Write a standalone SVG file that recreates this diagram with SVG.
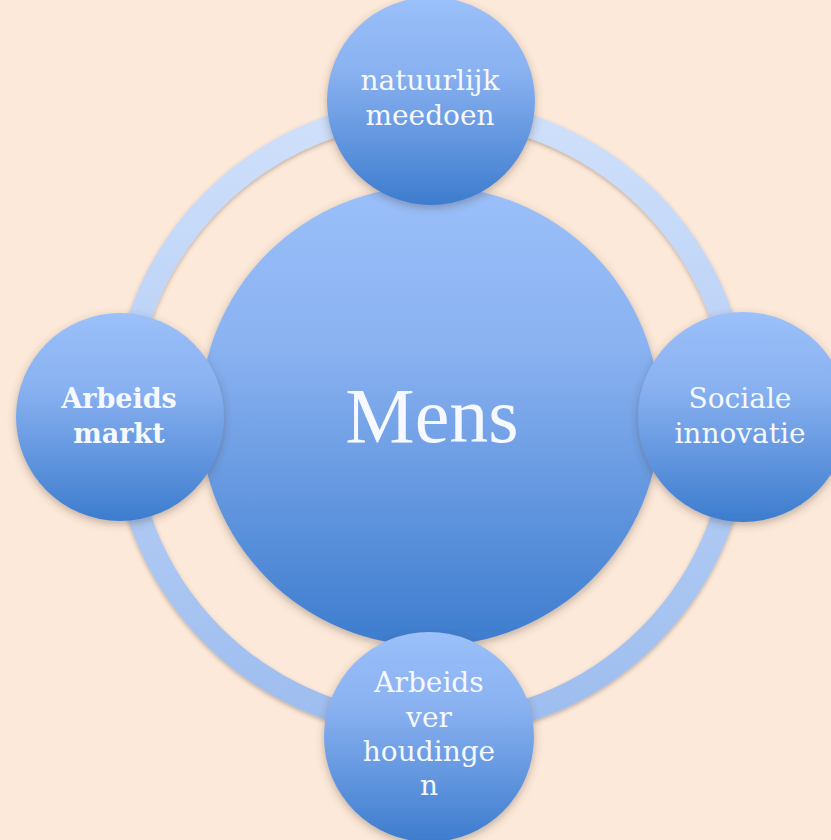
<svg xmlns="http://www.w3.org/2000/svg" width="831" height="840" viewBox="0 0 831 840">
  <defs>
    <linearGradient id="ballFill" x1="0" y1="0" x2="0" y2="1">
      <stop offset="0" stop-color="#9bc0fa"/>
      <stop offset="0.35" stop-color="#8ab2f1"/>
      <stop offset="1" stop-color="#3d7cce"/>
    </linearGradient>
    <linearGradient id="ringFill" x1="0" y1="0" x2="0" y2="1">
      <stop offset="0" stop-color="#cfe0fb"/>
      <stop offset="1" stop-color="#9dbdef"/>
    </linearGradient>
    <filter id="softShadow" x="-20%" y="-20%" width="140%" height="140%">
      <feDropShadow dx="0" dy="3" stdDeviation="4" flood-color="#4a3a30" flood-opacity="0.35"/>
    </filter>
    <filter id="ringShadow" x="-10%" y="-10%" width="120%" height="120%">
      <feDropShadow dx="0" dy="2" stdDeviation="2" flood-color="#4a3a30" flood-opacity="0.35"/>
    </filter>
  </defs>
  <style>
    .ball { fill: url(#ballFill); filter: url(#softShadow); }
    .label { font-family: "DejaVu Serif", "Liberation Serif", serif; font-size: 28px; fill: #f6f9ff; text-anchor: middle; }
    .bold { font-weight: bold; font-size: 27px; }
    .hub { font-family: "Liberation Serif", "Times New Roman", serif; font-size: 78px; }
  </style>

  <rect width="831" height="840" fill="#fde9d9"/>

  <!-- connecting ring -->
  <g id="connectors">
    <circle cx="431" cy="418" r="308" fill="none" stroke="url(#ringFill)" stroke-width="23" filter="url(#ringShadow)"/>
  </g>

  <!-- central node -->
  <g id="node-mens">
    <circle class="ball" cx="430" cy="416" r="230"/>
    <text class="label hub" x="432" y="442">Mens</text>
  </g>

  <g id="node-natuurlijk-meedoen">
    <circle class="ball" cx="431" cy="101" r="104"/>
    <text class="label" x="430" y="90">natuurlijk</text>
    <text class="label" x="430" y="125">meedoen</text>
  </g>

  <g id="node-arbeidsmarkt">
    <circle class="ball" cx="120" cy="417" r="104"/>
    <text class="label bold" x="119" y="408">Arbeids</text>
    <text class="label bold" x="119" y="443">markt</text>
  </g>

  <g id="node-sociale-innovatie">
    <circle class="ball" cx="743" cy="417" r="105"/>
    <text class="label" x="740" y="408">Sociale</text>
    <text class="label" x="740" y="443">innovatie</text>
  </g>

  <g id="node-arbeidsverhoudingen">
    <circle class="ball" cx="429" cy="737" r="105"/>
    <text class="label" x="429" y="692">Arbeids</text>
    <text class="label" x="429" y="727">ver</text>
    <text class="label" x="429" y="761">houdinge</text>
    <text class="label" x="429" y="795">n</text>
  </g>
</svg>
